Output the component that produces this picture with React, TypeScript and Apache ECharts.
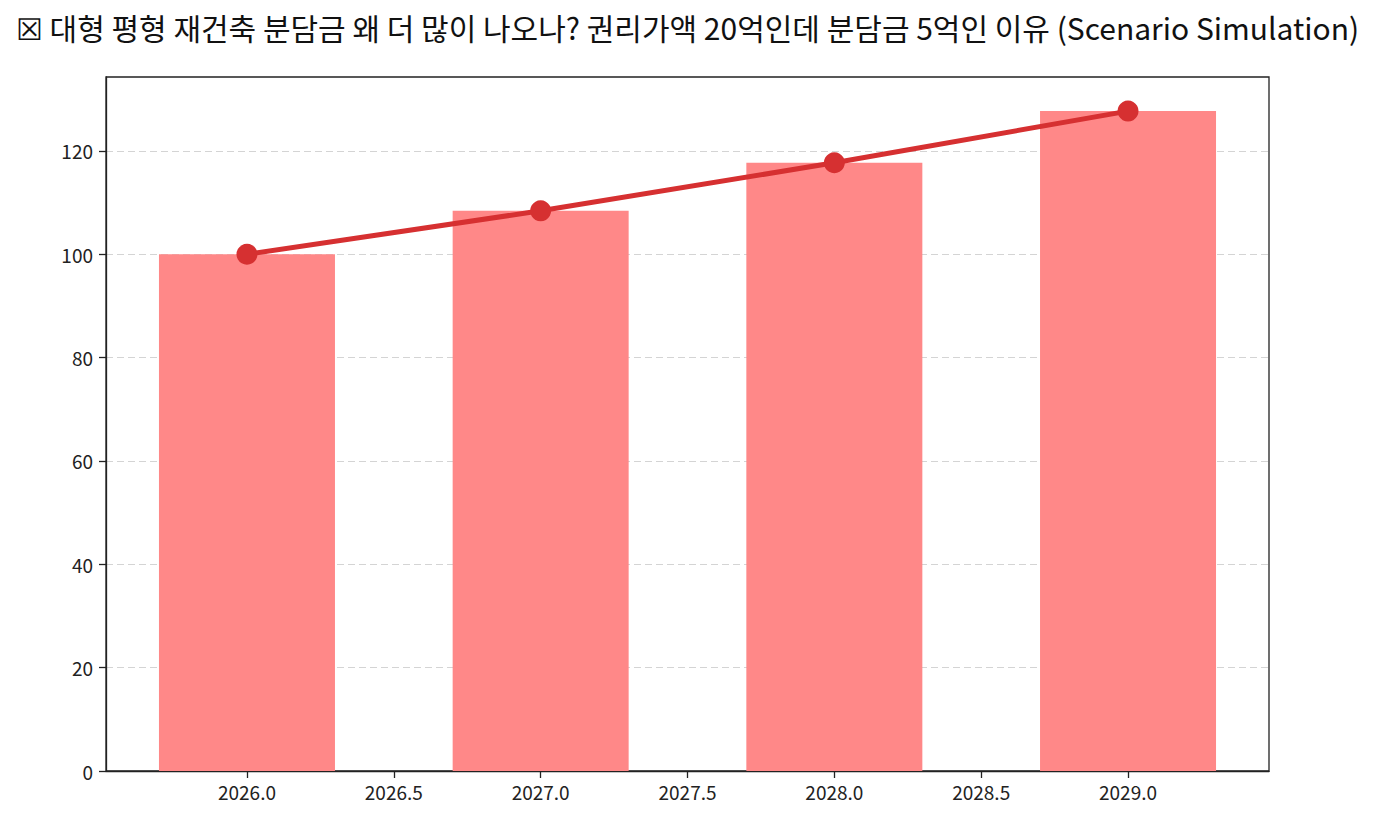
import React, { useEffect, useRef } from "react";
import * as echarts from "echarts";

const years = [2026, 2027, 2028, 2029];
const values = [100, 108.4, 117.7, 127.7];
const xTicks = [2026, 2026.5, 2027, 2027.5, 2028, 2028.5, 2029];
const yTicks = [0, 20, 40, 60, 80, 100, 120];

const TITLE =
  "☒ 대형 평형 재건축 분담금 왜 더 많이 나오나? 권리가액 20억인데 분담금 5억인 이유 (Scenario Simulation)";
const FONT = "'Noto Sans CJK KR', 'Noto Sans', sans-serif";

export default function App() {
  const chartRef = useRef<HTMLDivElement>(null);

  useEffect(() => {
    if (!chartRef.current) return;
    const chart = echarts.init(chartRef.current, undefined, { renderer: "svg" });
    const points = years.map((y, i) => [y, values[i]]);

    chart.setOption({
      animation: false,
      backgroundColor: "#ffffff",
      textStyle: { fontFamily: FONT },
      title: {
        text: TITLE,
        left: "center",
        top: 7,
        textStyle: { fontFamily: FONT, fontSize: 30, fontWeight: "normal", color: "#111" },
      },
      grid: {
        left: 106,
        right: 106,
        top: 77,
        bottom: 50,
        show: true,
        borderColor: "#222",
        borderWidth: 1.3,
      },
      xAxis: {
        type: "value",
        min: 2025.52,
        max: 2029.48,
        axisLine: { show: true, lineStyle: { color: "#222", width: 1.3 } },
        axisTick: {
          show: true,
          length: 7,
          lineStyle: { color: "#222", width: 1.3 },
          customValues: xTicks,
        },
        axisLabel: {
          customValues: xTicks,
          formatter: (v: number) => v.toFixed(1),
          color: "#222",
          fontSize: 19,
          margin: 11,
        },
        splitLine: { show: false },
      },
      yAxis: {
        type: "value",
        min: 0,
        max: 134.3,
        axisLine: { show: true, lineStyle: { color: "#222", width: 1.3 } },
        axisTick: {
          show: true,
          length: 7,
          lineStyle: { color: "#222", width: 1.3 },
          customValues: yTicks,
        },
        axisLabel: {
          customValues: yTicks,
          color: "#222",
          fontSize: 19,
          margin: 13,
        },
        splitLine: {
          show: true,
          lineStyle: { color: "#d4d4d4", width: 1, type: [7, 4] },
        },
      },
      series: [
        {
          type: "bar",
          data: points,
          barWidth: 176,
          itemStyle: { color: "#ff8888" },
          z: 2,
        },
        {
          type: "line",
          data: points,
          symbol: "circle",
          symbolSize: 21,
          lineStyle: { color: "#d63031", width: 5 },
          itemStyle: { color: "#d63031" },
          z: 3,
        },
      ],
    });

    return () => {
      chart.dispose();
    };
  }, []);

  return (
    <div
      ref={chartRef}
      style={{ width: 1375, height: 821, position: "absolute", left: 0, top: 0 }}
    />
  );
}
